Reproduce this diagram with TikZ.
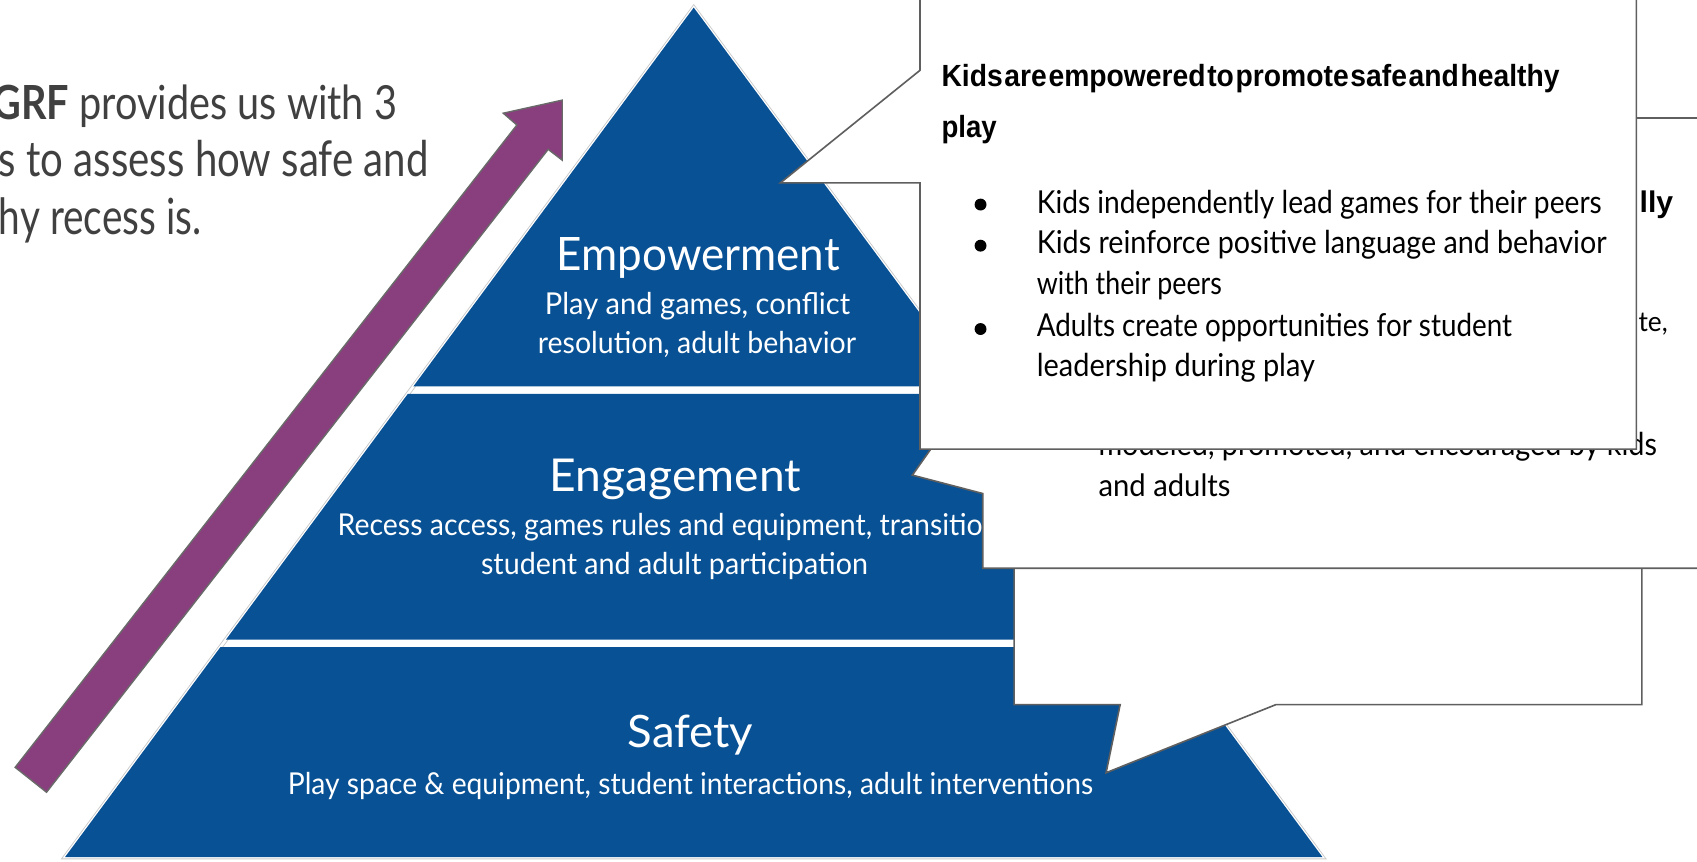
\documentclass[tikz,border=0pt]{standalone}
\usepackage{fontspec}
\usepackage{graphicx}
\setmainfont{Lato}
\newfontfamily\arialfont{Liberation Sans}
\usetikzlibrary{calc}
\definecolor{pyrblue}{RGB}{8,81,148}
\definecolor{arrowpurple}{RGB}{137,63,125}
\definecolor{arrowedge}{RGB}{105,105,105}
\definecolor{calloutedge}{RGB}{95,95,95}
\definecolor{leftgray}{RGB}{64,64,64}
\definecolor{rimgray}{RGB}{200,200,200}
\newcommand{\fitline}[3]{\resizebox{#1pt}{#2pt}{\fontsize{30}{36}\selectfont #3}}
\newcommand{\headfont}{\arialfont\bfseries\spaceskip=0.06em plus 0em\relax}
\begin{document}
\begin{tikzpicture}[x=1pt,y=-1pt,
  txt/.style={inner sep=0pt, outer sep=0pt},
  callout/.style={fill=white, draw=calloutedge, line width=1.5pt, line join=miter},
  tier/.style={fill=pyrblue},
  bulletdot/.style={circle, fill=black, minimum size=11pt, inner sep=0pt},
]
\useasboundingbox (0,0) rectangle (1568,796);
\clip (0,0) rectangle (1568,796);

% ---------- pyramid ----------
\coordinate (P) at (641,7);
\coordinate (BL) at (60,792);
\coordinate (BR) at (1222,792);
\draw[rimgray, line width=4pt, line join=miter] (P) -- (BL) -- (BR) -- cycle;
\draw[white, line width=2.4pt, line join=miter] (P) -- (BL) -- (BR) -- cycle;

\coordinate (e1L) at ($(P)!0.44586!(BL)$);
\coordinate (e1R) at ($(P)!0.44586!(BR)$);
\coordinate (g1L) at ($(P)!0.45478!(BL)$);
\coordinate (g1R) at ($(P)!0.45478!(BR)$);
\coordinate (g2L) at ($(P)!0.74395!(BL)$);
\coordinate (g2R) at ($(P)!0.74395!(BR)$);
\coordinate (s1L) at ($(P)!0.75287!(BL)$);
\coordinate (s1R) at ($(P)!0.75287!(BR)$);

\fill[tier] (P) -- (e1L) -- (e1R) -- cycle;
\fill[tier] (g1L) -- (g2L) -- (g2R) -- (g1R) -- cycle;
\fill[tier] (s1L) -- (BL) -- (BR) -- (s1R) -- cycle;

% tier texts
\node[txt, anchor=base west, white] (empt) at (514.5,249.5) {\fitline{261.5}{30.5}{Empowerment}};
\node[txt, anchor=base west, white] (emps1) at (503.5,291) {\fitline{282}{20.5}{Play and games, conflict}};
\node[txt, anchor=base west, white] (emps2) at (497,326.5) {\fitline{294}{20.5}{resolution, adult behavior}};

\node[txt, anchor=base west, white] (engt) at (508,454) {\fitline{232}{30}{Engagement}};
\node[txt, anchor=base west, white] (engs1) at (312,495) {\fitline{622}{20.5}{Recess access, games rules and equipment, transitions}};
\node[txt, anchor=base west, white] (engs2) at (444.5,530.5) {\fitline{357.5}{20.5}{student and adult participation}};

\node[txt, anchor=base west, white] (saft) at (580,691) {\fitline{116}{30}{Safety}};
\node[txt, anchor=base west, white] (safs) at (266,734.5) {\fitline{744}{20.5}{Play space \& equipment, student interactions, adult interventions}};

% ---------- purple arrow ----------
\filldraw[fill=arrowpurple, draw=arrowedge, line width=1.3pt, line join=miter]
  (14,709) -- (477.6,115.5) -- (465,104.6) -- (519.5,92.5) -- (519.5,148) -- (506.5,138) -- (43,732) -- cycle;

% ---------- left text ----------
\node[txt, anchor=base east, leftgray] (lt1) at (367,110) {\fitline{374}{32}{{\bfseries GRF} provides us with 3}};
\node[txt, anchor=base west, leftgray] (lt2) at (-1,163) {\fitline{397}{33.5}{s to assess how safe and}};
\node[txt, anchor=base west, leftgray] (lt3) at (-1,217) {\fitline{187}{34}{hy recess is.}};

% ---------- callout C (back) ----------
\draw[callout] (937,150) -- (937,651) -- (1035,651) -- (1022,714) -- (1179,651) -- (1517,651) -- (1517,150) -- cycle;

% ---------- callout B (middle) ----------
\draw[callout] (908,109) -- (908,347) -- (843,439) -- (908,456) -- (908,525) -- (1580,525) -- (1580,109) -- cycle;
\node[txt, anchor=base west] (bh) at (1515,196) {\resizebox{31pt}{20pt}{\fontsize{30}{36}\selectfont\headfont lly}};
\node[txt, anchor=base west] (bte) at (1514,306) {\fitline{27}{17}{te,}};
\node[txt, anchor=base west] (bl1) at (1015,421) {\fitline{516}{21.5}{modeled, promoted, and encouraged by kids}};
\node[txt, anchor=base west] (bl2) at (1015,459) {\fitline{122}{21}{and adults}};

% ---------- callout A (front) ----------
\draw[callout] (850,-5) -- (850,65) -- (721,169) -- (850,169) -- (850,415) -- (1512,415) -- (1512,-5) -- cycle;
\node[txt, anchor=base west] (ah1) at (870,80) {\resizebox{571pt}{20.5pt}{\fontsize{30}{36}\selectfont\headfont Kids are empowered to promote safe and healthy}};
\node[txt, anchor=base west] (ah2) at (870,127) {\resizebox{51pt}{20.5pt}{\fontsize{30}{36}\selectfont\headfont play}};

\node[bulletdot] (d1) at (906,189) {};
\node[bulletdot] (d2) at (906,227) {};
\node[bulletdot] (d3) at (906,304) {};
\node[txt, anchor=base west] (a1) at (958,197) {\fitline{522}{21.5}{Kids independently lead games for their peers}};
\node[txt, anchor=base west] (a2) at (958,234) {\fitline{526.5}{21.5}{Kids reinforce positive language and behavior}};
\node[txt, anchor=base west] (a3) at (958,272.5) {\fitline{171}{21.5}{with their peers}};
\node[txt, anchor=base west] (a4) at (958,311) {\fitline{439}{21.5}{Adults create opportunities for student}};
\node[txt, anchor=base west] (a5) at (958,348) {\fitline{257}{21.5}{leadership during play}};
\end{tikzpicture}
\end{document}
